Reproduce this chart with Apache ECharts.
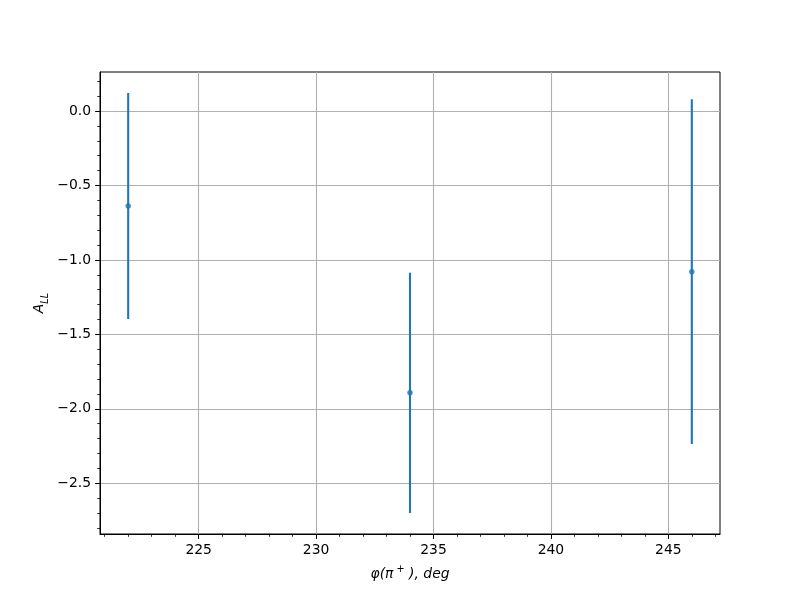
<!DOCTYPE html>
<html>
<head>
<meta charset="utf-8">
<script src="https://cdn.jsdelivr.net/npm/echarts@6/dist/echarts.min.js"></script>
<style>html,body{margin:0;padding:0;background:#fff;}#c{width:800px;height:600px;}</style>
</head>
<body>
<div id="c"></div>
<script>
// ---- data ----
const xValues = [222, 234, 246];
const yValues = [-0.638, -1.893, -1.079];
const yErrors = [0.759, 0.807, 1.158];

const xMajorTicks = [225, 230, 235, 240, 245];
const xMinorTicks = [221, 222, 223, 224, 226, 227, 228, 229, 231, 232, 233, 234, 236, 237, 238, 239, 241, 242, 243, 244, 246, 247];
const yMajorTicks = [-2.5, -2.0, -1.5, -1.0, -0.5, 0.0];
const yMinorTicks = [-2.8, -2.7, -2.6, -2.4, -2.3, -2.2, -2.1, -1.9, -1.8, -1.7, -1.6, -1.4, -1.3, -1.2, -1.1, -0.9, -0.8, -0.7, -0.6, -0.4, -0.3, -0.2, -0.1, 0.1, 0.2];

// axis limits like matplotlib's 5% margins
const xLo = Math.min(...xValues), xHi = Math.max(...xValues);
const xMin = xLo - 0.05 * (xHi - xLo), xMax = xHi + 0.05 * (xHi - xLo);
const lows = yValues.map((v, i) => v - yErrors[i]);
const highs = yValues.map((v, i) => v + yErrors[i]);
const yLo = Math.min(...lows), yHi = Math.max(...highs);
const yMin = yLo - 0.05 * (yHi - yLo), yMax = yHi + 0.05 * (yHi - yLo);

const FONT = 'DejaVu Sans';
const FS = 13.9;
const BLUE = '#1f77b4';
const fmtY = v => (Math.round(v * 10) / 10).toFixed(1).replace('-', '\u2212');

const chart = echarts.init(document.getElementById('c'), null, {renderer: 'canvas'});
chart.setOption({
  animation: false,
  backgroundColor: '#fff',
  grid: {left: 100, right: 80, top: 72, bottom: 66, show: true, borderColor: '#000', borderWidth: 1, backgroundColor: 'transparent', containLabel: false, outerBoundsMode: 'none'},
  xAxis: [{
    type: 'value', position: 'bottom', min: xMin, max: xMax,
    axisLine: {show: true, onZero: false, lineStyle: {color: '#000', width: 1}},
    axisTick: {show: true, inside: false, length: 4.9, customValues: xMajorTicks, lineStyle: {color: '#000', width: 1}},
    axisLabel: {show: true, customValues: xMajorTicks, margin: 9, color: '#000', fontFamily: FONT, fontSize: FS, formatter: v => String(Math.round(v))},
    splitLine: {show: true, lineStyle: {color: '#b0b0b0', width: 1.1}},
    name: '{t|\u03c6(\u03c0}{sup| +}{t| ), deg}',
    nameLocation: 'middle', nameGap: 30,
    nameTextStyle: {color: '#000', fontFamily: FONT, fontSize: FS, fontStyle: 'italic',
      rich: {t: {fontFamily: FONT, fontSize: FS, fontStyle: 'italic', color: '#000'},
             sup: {fontFamily: FONT, fontSize: 9.7, fontStyle: 'normal', color: '#000', verticalAlign: 'top', lineHeight: 20}}}
  }, {
    type: 'value', position: 'bottom', min: xMin, max: xMax,
    axisLine: {show: false, onZero: false},
    axisTick: {show: true, inside: false, length: 2.8, customValues: xMinorTicks, lineStyle: {color: '#000', width: 0.8}},
    axisLabel: {show: false},
    splitLine: {show: false}
  }],
  yAxis: [{
    type: 'value', position: 'left', min: yMin, max: yMax,
    axisLine: {show: true, onZero: false, lineStyle: {color: '#000', width: 1}},
    axisTick: {show: true, inside: false, length: 4.9, customValues: yMajorTicks, lineStyle: {color: '#000', width: 1}},
    axisLabel: {show: true, customValues: yMajorTicks, margin: 9, color: '#000', fontFamily: FONT, fontSize: FS, formatter: fmtY},
    splitLine: {show: true, lineStyle: {color: '#b0b0b0', width: 1.1}},
    name: '{a|A}{s|LL}',
    nameLocation: 'middle', nameRotate: 90, nameGap: 50, nameMoveOverlap: false,
    nameTextStyle: {color: '#000', fontFamily: FONT, fontSize: FS, fontStyle: 'italic',
      rich: {a: {fontFamily: FONT, fontSize: FS, fontStyle: 'italic', color: '#000'},
             s: {fontFamily: FONT, fontSize: 9.7, fontStyle: 'italic', color: '#000', verticalAlign: 'bottom', lineHeight: 22}}}
  }, {
    type: 'value', position: 'left', min: yMin, max: yMax,
    axisLine: {show: false, onZero: false},
    axisTick: {show: true, inside: false, length: 2.8, customValues: yMinorTicks, lineStyle: {color: '#000', width: 0.8}},
    axisLabel: {show: false},
    splitLine: {show: false}
  }],
  series: [{
    type: 'custom',
    xAxisIndex: 0, yAxisIndex: 0,
    data: xValues.map((x, i) => [x, lows[i], highs[i]]),
    renderItem: function (params, api) {
      const p1 = api.coord([api.value(0), api.value(1)]);
      const p2 = api.coord([api.value(0), api.value(2)]);
      return {type: 'line', shape: {x1: p1[0], y1: p1[1], x2: p2[0], y2: p2[1]}, style: {stroke: BLUE, lineWidth: 2.1}};
    },
    z: 3
  }, {
    type: 'scatter',
    xAxisIndex: 0, yAxisIndex: 0,
    data: xValues.map((x, i) => [x, yValues[i]]),
    symbol: 'circle', symbolSize: 5.5,
    itemStyle: {color: BLUE},
    z: 4
  }]
});
</script>
</body>
</html>
